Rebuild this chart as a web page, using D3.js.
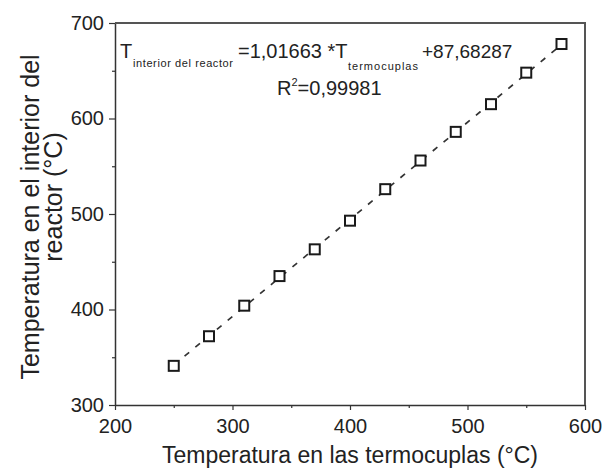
<!DOCTYPE html>
<html>
<head>
<meta charset="utf-8">
<script src="https://cdn.jsdelivr.net/npm/d3@7"></script>
<style>
  html, body { margin: 0; padding: 0; background: #fff; }
  svg text { font-family: "Liberation Sans", Arial, sans-serif; fill: #222; }
</style>
</head>
<body>
<svg id="chart" width="604" height="468"></svg>
<script>
// measured temperatures
var tcTemps = [250, 280, 310, 340, 370, 400, 430, 460, 490, 520, 550, 580];
var reactorTemps = [341, 372, 404, 435, 463, 493, 526, 556, 586, 615, 648, 678];
// linear fit shown on the chart
var fitSlope = 1.01663, fitIntercept = 87.68287;
var xTicks = [200, 300, 400, 500, 600];
var xMinor = [250, 350, 450, 550];
var yTicks = [300, 400, 500, 600, 700];
var yMinor = [350, 450, 550, 650];

(function() {
    var svg = d3.select("#chart");
    var pLeft = 115, pRight = 585, pTop = 23, pBottom = 405;

    var x = d3.scaleLinear().domain([200, 600]).range([pLeft, pRight]);
    var y = d3.scaleLinear().domain([300, 700]).range([pBottom, pTop]);

    // axes
    var gx = svg.append("g").attr("transform", "translate(0," + pBottom + ")")
        .call(d3.axisBottom(x).tickValues(xTicks).tickSize(5).tickSizeOuter(0).tickPadding(9));
    svg.append("g").attr("transform", "translate(0," + pBottom + ")")
        .call(d3.axisBottom(x).tickValues(xMinor).tickSize(3).tickFormat(""))
        .select(".domain").remove();
    var gy = svg.append("g").attr("transform", "translate(" + pLeft + ",0)")
        .call(d3.axisLeft(y).tickValues(yTicks).tickSize(6).tickSizeOuter(0).tickPadding(5));
    svg.append("g").attr("transform", "translate(" + pLeft + ",0)")
        .call(d3.axisLeft(y).tickValues(yMinor).tickSize(3).tickFormat(""))
        .select(".domain").remove();

    svg.selectAll(".tick line").attr("stroke", "#333").attr("stroke-width", 1.2);
    svg.selectAll(".domain").attr("stroke", "#333").attr("stroke-width", 1.5);
    [gx, gy].forEach(function(g) {
        g.selectAll("text").attr("font-size", 20).attr("fill", "#222")
            .attr("font-family", "Liberation Sans, Arial, sans-serif");
    });

    // frame top/right
    svg.append("path")
        .attr("d", "M" + pLeft + "," + pTop + "H" + pRight + "V" + pBottom)
        .attr("fill", "none").attr("stroke", "#555").attr("stroke-width", 2);

    // fit line
    var x0 = tcTemps[0], x1 = tcTemps[tcTemps.length - 1];
    svg.append("line")
        .attr("x1", x(x0)).attr("y1", y(fitSlope * x0 + fitIntercept))
        .attr("x2", x(x1)).attr("y2", y(fitSlope * x1 + fitIntercept))
        .attr("stroke", "#333").attr("stroke-width", 1.7).attr("stroke-dasharray", "6,8");

    // points
    var s = 10;
    svg.selectAll("rect.pt").data(tcTemps).enter().append("rect")
        .attr("class", "pt")
        .attr("x", function(d) { return x(d) - s / 2; })
        .attr("y", function(d, i) { return y(reactorTemps[i]) - s / 2; })
        .attr("width", s).attr("height", s)
        .attr("fill", "#fff").attr("stroke", "#1a1a1a").attr("stroke-width", 2);

    // equation
    svg.append("text").attr("x", 120).attr("y", 58).attr("font-size", 20).text("T");
    svg.append("text").attr("x", 133).attr("y", 67).attr("font-size", 11)
        .attr("textLength", 100).attr("lengthAdjust", "spacing").text("interior del reactor");
    svg.append("text").attr("x", 238).attr("y", 58).attr("font-size", 20).text("=1,01663 *T");
    svg.append("text").attr("x", 348).attr("y", 70).attr("font-size", 11)
        .attr("textLength", 70).attr("lengthAdjust", "spacing").text("termocuplas");
    svg.append("text").attr("x", 422).attr("y", 58).attr("font-size", 19).text("+87,68287");

    var r2 = svg.append("text").attr("x", 277).attr("y", 95).attr("font-size", 20);
    r2.append("tspan").text("R");
    r2.append("tspan").attr("font-size", 11).attr("dy", -9).text("2");
    r2.append("tspan").attr("dy", 9).text("=0,99981");

    // axis titles
    svg.append("text").attr("x", 350).attr("y", 463).attr("text-anchor", "middle")
        .attr("font-size", 23).text("Temperatura en las termocuplas (°C)");
    svg.append("text").attr("transform", "translate(39,217) rotate(-90)")
        .attr("text-anchor", "middle").attr("font-size", 25).text("Temperatura en el interior del");
    svg.append("text").attr("transform", "translate(62,197) rotate(-90)")
        .attr("text-anchor", "middle").attr("font-size", 25).text("reactor (°C)");
})();
</script>
</body>
</html>
